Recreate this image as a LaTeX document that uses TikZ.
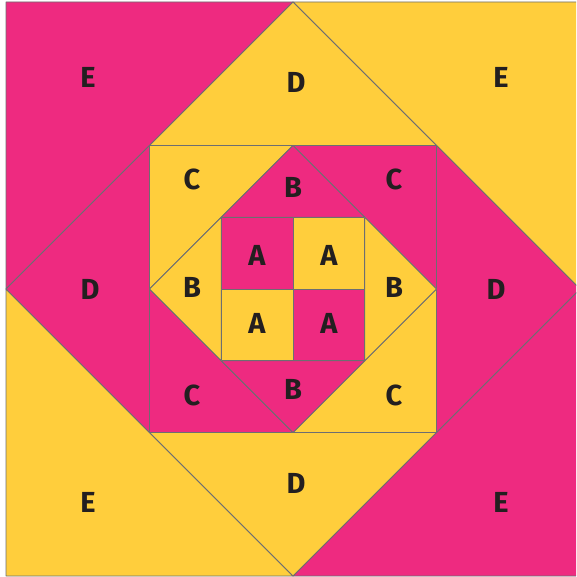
\documentclass[tikz,border=0pt]{standalone}
\usepackage{fontspec}
\setmainfont{Fira Sans}
\definecolor{quiltpink}{HTML}{EE2A80}
\definecolor{quiltyellow}{HTML}{FFCE3C}
\definecolor{seamgray}{HTML}{6D6E71}
\definecolor{letterink}{HTML}{231F20}
\begin{document}
\begin{tikzpicture}[x=1pt, y=-1pt,
    pink/.style={fill=quiltpink, draw=seamgray, line width=0.8pt, line join=round},
    yellow/.style={fill=quiltyellow, draw=seamgray, line width=0.8pt, line join=round},
    patch/.style={font=\bfseries\fontsize{29}{29}\selectfont, text=letterink, inner sep=0pt}]
  \useasboundingbox (0,0) rectangle (576,577);
  \clip (0,0) rectangle (576,577);
  % outer square
  \coordinate (o1) at (6,2);   \coordinate (o2) at (580,2);
  \coordinate (o3) at (580,576); \coordinate (o4) at (6,576);
  % diamond D
  \coordinate (dt) at (293,2);   \coordinate (dr) at (580,289);
  \coordinate (db) at (293,576); \coordinate (dl) at (6,289);
  % square C
  \coordinate (c1) at (149.5,145.5); \coordinate (c2) at (436.5,145.5);
  \coordinate (c3) at (436.5,432.5); \coordinate (c4) at (149.5,432.5);
  % diamond B
  \coordinate (bt) at (293,145.5); \coordinate (br) at (436.5,289);
  \coordinate (bb) at (293,432.5); \coordinate (bl) at (149.5,289);
  % square A
  \coordinate (a1) at (221.25,217.25); \coordinate (a2) at (364.75,217.25);
  \coordinate (a3) at (364.75,360.75); \coordinate (a4) at (221.25,360.75);
  \coordinate (am) at (293,289);
  \coordinate (at) at (293,217.25); \coordinate (ab) at (293,360.75);
  \coordinate (al) at (221.25,289); \coordinate (ar) at (364.75,289);

  % E corners
  \draw[pink]   (o1) -- (dt) -- (dl) -- cycle;
  \draw[yellow] (o2) -- (dr) -- (dt) -- cycle;
  \draw[pink]   (o3) -- (db) -- (dr) -- cycle;
  \draw[yellow] (o4) -- (dl) -- (db) -- cycle;
  % D triangles
  \draw[yellow] (dt) -- (c2) -- (c1) -- cycle;
  \draw[pink]   (dr) -- (c3) -- (c2) -- cycle;
  \draw[yellow] (db) -- (c4) -- (c3) -- cycle;
  \draw[pink]   (dl) -- (c1) -- (c4) -- cycle;
  % C triangles
  \draw[yellow] (c1) -- (bt) -- (bl) -- cycle;
  \draw[pink]   (c2) -- (br) -- (bt) -- cycle;
  \draw[yellow] (c3) -- (bb) -- (br) -- cycle;
  \draw[pink]   (c4) -- (bl) -- (bb) -- cycle;
  % B triangles
  \draw[pink]   (bt) -- (a2) -- (a1) -- cycle;
  \draw[yellow] (br) -- (a3) -- (a2) -- cycle;
  \draw[pink]   (bb) -- (a4) -- (a3) -- cycle;
  \draw[yellow] (bl) -- (a1) -- (a4) -- cycle;
  % A squares
  \draw[pink]   (a1) -- (at) -- (am) -- (al) -- cycle;
  \draw[yellow] (at) -- (a2) -- (ar) -- (am) -- cycle;
  \draw[pink]   (am) -- (ar) -- (a3) -- (ab) -- cycle;
  \draw[yellow] (al) -- (am) -- (ab) -- (a4) -- cycle;

  % labels
  \node[patch] (eTL) at (88,77)  {E};
  \node[patch] (dT)  at (296,82) {D};
  \node[patch] (eTR) at (501,77) {E};
  \node[patch] (dL)  at (90,289) {D};
  \node[patch] (dR)  at (496,289) {D};
  \node[patch] (eBL) at (88,502) {E};
  \node[patch] (dB)  at (296,483) {D};
  \node[patch] (eBR) at (501,502) {E};
  \node[patch] (cTL) at (192,179) {C};
  \node[patch] (bT)  at (293,187) {B};
  \node[patch] (cTR) at (394,179) {C};
  \node[patch] (bL)  at (192,287) {B};
  \node[patch] (bR)  at (394,287) {B};
  \node[patch] (cBL) at (192,395) {C};
  \node[patch] (bB)  at (293,389) {B};
  \node[patch] (cBR) at (394,395) {C};
  \node[patch] (aTL) at (257,255) {A};
  \node[patch] (aTR) at (329,255) {A};
  \node[patch] (aBL) at (257,323) {A};
  \node[patch] (aBR) at (329,323) {A};
\end{tikzpicture}
\end{document}
